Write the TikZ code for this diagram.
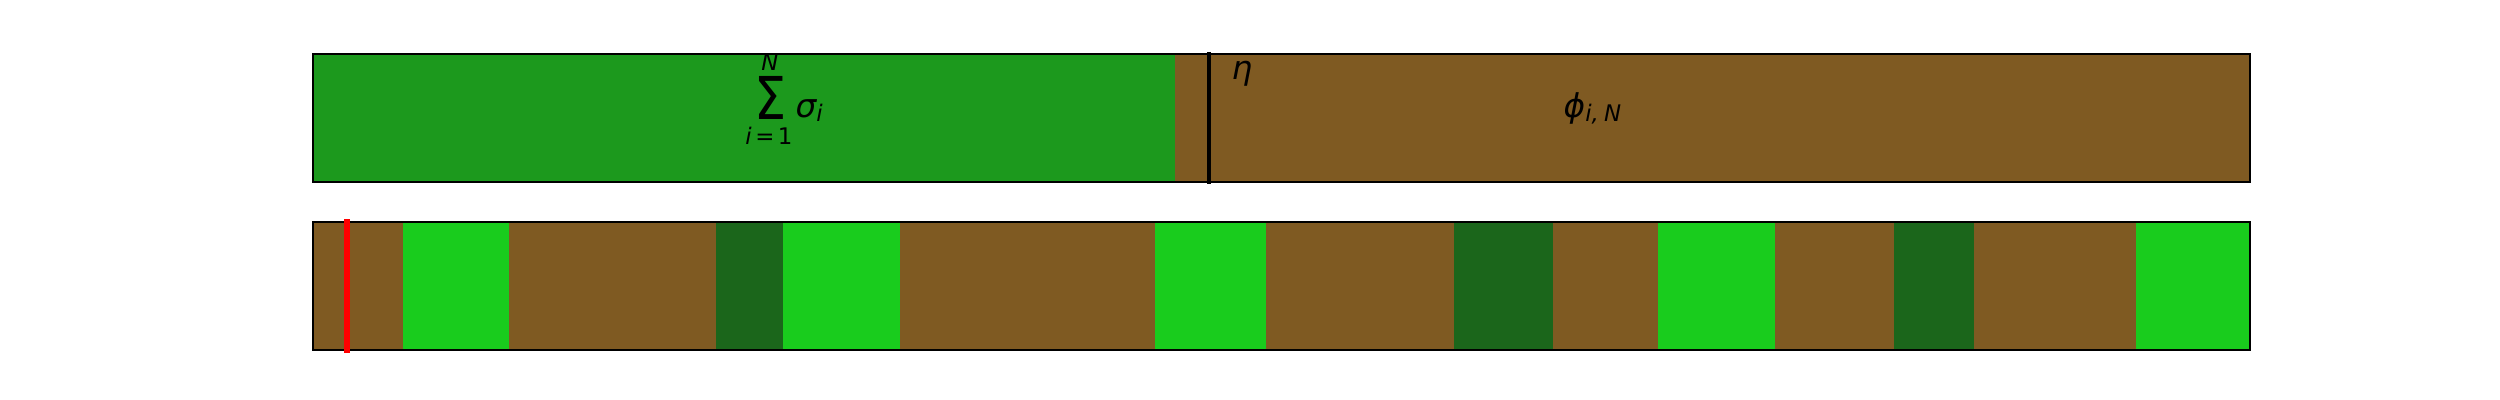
\documentclass[tikz,border=0pt]{standalone}
\usepackage{fontspec}
\newfontfamily\dv{DejaVu Sans}
\definecolor{topgreen}{RGB}{28,153,29}
\definecolor{soil}{RGB}{127,90,34}
\definecolor{lightg}{RGB}{25,204,29}
\definecolor{darkg}{RGB}{27,102,27}
\begin{document}
\begin{tikzpicture}[x=0.01cm,y=-0.01cm,
  frame/.style={draw=black,line width=0.43pt},
  mainlbl/.style={inner sep=0,font={\dv\itshape\fontsize{9.3}{11}\selectfont}},
  smalllbl/.style={inner sep=0,font={\dv\fontsize{6.5}{8}\selectfont}},
  sumlbl/.style={inner sep=0,font={\dv\fontsize{16.8}{20}\selectfont}}]
\useasboundingbox (0,0) rectangle (2500,400);
% top bar
\fill[topgreen] (313,54) rectangle (1175,182);
\fill[soil] (1175,54) rectangle (2250,182);
\draw[frame] (313,54) rectangle (2250,182);
\coordinate (etatop) at (1209,52);
\coordinate (etabot) at (1209,184);
\draw[black,line width=1.14pt] (etatop) -- (etabot);
\node[sumlbl,anchor=base] (sumsym) at (771,119) {\scalebox{0.86}[1]{Σ}};
\node[smalllbl,anchor=base] (supN) at (770,70) {\itshape N};
\node[smalllbl,anchor=base] (subi) at (769,144) {{\itshape i}\kern1pt=\kern1pt1};
\node[mainlbl,anchor=base west] (sigma) at (795,117) {σ\raisebox{-1.4pt}{\fontsize{6.5}{8}\selectfont i}};
\node[mainlbl,anchor=base west] (eta) at (1231,80) {η};
\node[mainlbl,anchor=base west] (phi) at (1563,117) {ϕ\raisebox{-1.4pt}{\fontsize{6.5}{8}\selectfont i,\kern1.5pt N}};
% bottom bar
\fill[soil] (313,222) rectangle (403,350);
\fill[lightg] (403,222) rectangle (509,350);
\fill[soil] (509,222) rectangle (716,350);
\fill[darkg] (716,222) rectangle (783,350);
\fill[lightg] (783,222) rectangle (900,350);
\fill[soil] (900,222) rectangle (1155,350);
\fill[lightg] (1155,222) rectangle (1266,350);
\fill[soil] (1266,222) rectangle (1454,350);
\fill[darkg] (1454,222) rectangle (1553,350);
\fill[soil] (1553,222) rectangle (1658,350);
\fill[lightg] (1658,222) rectangle (1775,350);
\fill[soil] (1775,222) rectangle (1894,350);
\fill[darkg] (1894,222) rectangle (1974,350);
\fill[soil] (1974,222) rectangle (2136,350);
\fill[lightg] (2136,222) rectangle (2250,350);
\draw[frame] (313,222) rectangle (2250,350);
\coordinate (redtop) at (347,219);
\coordinate (redbot) at (347,353);
\draw[red,line width=1.7pt] (redtop) -- (redbot);
\end{tikzpicture}
\end{document}
